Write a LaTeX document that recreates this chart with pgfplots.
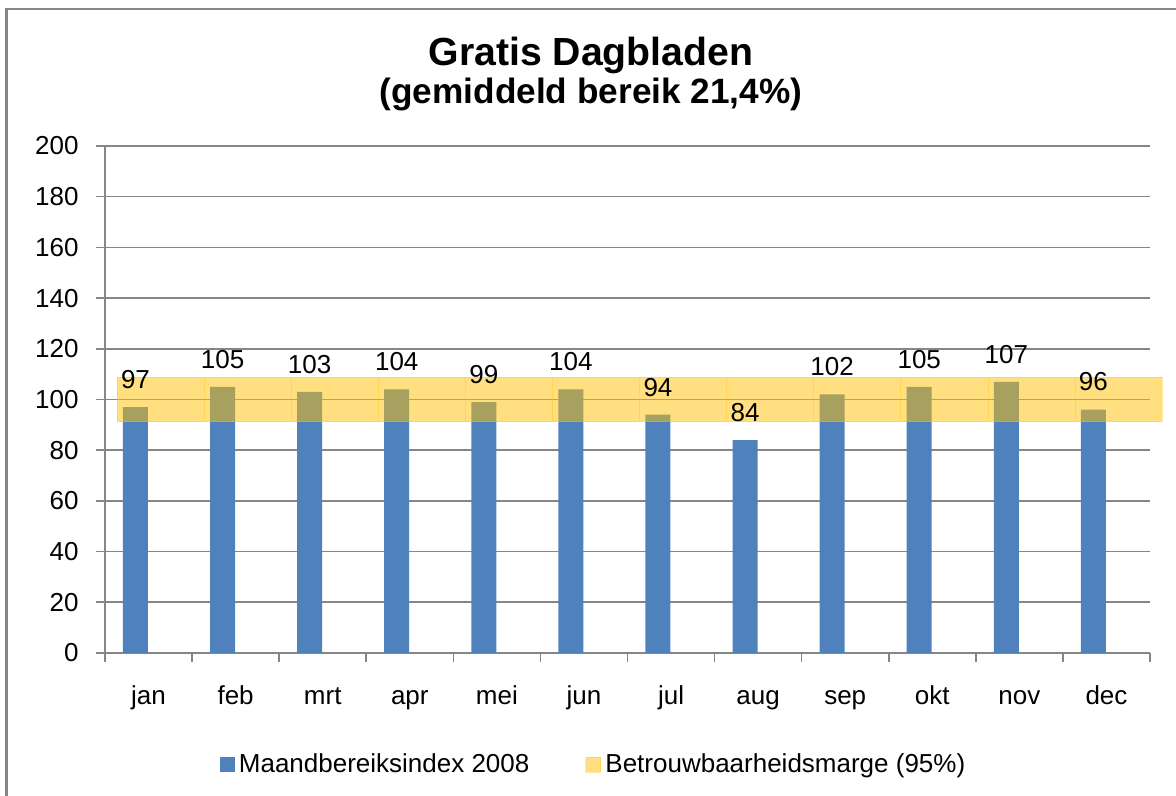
\documentclass[border=0pt]{standalone}
\usepackage{pgfplots}
\pgfplotsset{compat=1.18}
\usepackage{fontspec}
\setmainfont{Liberation Sans}
\definecolor{barblue}{HTML}{4F81BD}
\definecolor{bandyellow}{HTML}{FFC000}
\definecolor{gridgray}{HTML}{868686}
\pgfplotstableread{
x    v
-0.15 97
0.85 105
1.85 103
2.85 104
3.85 99
4.85 104
5.85 94
6.85 84
7.85 102
8.85 105
9.85 107
10.85 96
}\bars
\begin{document}
\begin{tikzpicture}
\path[use as bounding box] (-52.5pt,-71.5pt) rectangle (535.5pt,326.5pt);
\draw[gridgray, line width=1.25pt] (-49.25pt,-80pt) -- (-49.25pt,322pt) -- (560pt,322pt);
\node[font=\bfseries\fontsize{19.6}{23}\selectfont, anchor=base] at (243pt,293.5pt) {Gratis Dagbladen};
\node[font=\bfseries\fontsize{17.6}{21}\selectfont, anchor=base] at (243pt,274.5pt) {(gemiddeld bereik 21,4\%)};
\begin{axis}[
  at={(0pt,0pt)}, anchor=south west,
  scale only axis, width=522.5pt, height=253.5pt,
  xmin=-0.5, xmax=11.5, ymin=0, ymax=200,
  clip=false,
  axis lines*=left,
  axis line style={draw=gridgray, line width=0.8pt},
  ymajorgrids, grid style={draw=gridgray, line width=0.8pt},
  ytick={0,20,...,200},
  xtick={0,1,2,3,4,5,6,7,8,9,10,11},
  xticklabels={jan,feb,mrt,apr,mei,jun,jul,aug,sep,okt,nov,dec},
  minor xtick={-0.5,0.5,...,11.5},
  tick align=outside,
  major tick length=4.5pt, minor tick length=4.5pt,
  major x tick style={draw=none},
  tick style={draw=gridgray, line width=0.8pt},
  /pgf/number format/assume math mode=true,
  font=\fontsize{13}{15.6}\selectfont,
  ticklabel style={font=\fontsize{13}{15.6}\selectfont},
  yticklabel style={anchor=east, inner sep=0pt, xshift=-8.5pt},
  xticklabel style={anchor=base, inner sep=0pt, yshift=-21.5pt},
  ybar, bar width=12.5pt, bar shift=0pt,
]
\addplot[fill=barblue, draw=none] table[x=x, y=v] {\bars};
\end{axis}
\begin{axis}[
  at={(0pt,0pt)}, anchor=south west,
  scale only axis, width=522.5pt, height=253.5pt,
  xmin=-0.5, xmax=11.5, ymin=0, ymax=200,
  clip=false, hide axis,
  ybar stacked, bar width=1, bar shift=0pt,
  legend columns=2,
  legend style={draw=none, fill=none, at={(0.4685,-0.2209)}, anchor=center,
    font=\fontsize{13}{15.6}\selectfont,
    /tikz/every even column/.append style={column sep=26pt}},
  legend cell align=left,
]
\addplot[draw=none, fill=none, forget plot] coordinates {
 (0.14,91.15) (1.14,91.15) (2.14,91.15) (3.14,91.15) (4.14,91.15) (5.14,91.15)
 (6.14,91.15) (7.14,91.15) (8.14,91.15) (9.14,91.15) (10.14,91.15) (11.14,91.15)
};
\addlegendimage{area legend, fill=barblue, draw=none,
  legend image code/.code={\fill[barblue] (0pt,-3.75pt) rectangle (7.5pt,3.75pt);}}
\addlegendentry{Maandbereiksindex 2008}
\addplot[fill=bandyellow, fill opacity=0.5, draw=bandyellow, draw opacity=0.35, line width=0.5pt,
  legend image code/.code={\fill[bandyellow, fill opacity=0.5] (0pt,-3.75pt) rectangle (7.5pt,3.75pt);}] coordinates {
 (0.14,17.7) (1.14,17.7) (2.14,17.7) (3.14,17.7) (4.14,17.7) (5.14,17.7)
 (6.14,17.7) (7.14,17.7) (8.14,17.7) (9.14,17.7) (10.14,17.7) (11.14,17.7)
};
\addlegendentry{Betrouwbaarheidsmarge (95\%)}
\end{axis}
\begin{axis}[
  at={(0pt,0pt)}, anchor=south west,
  scale only axis, width=522.5pt, height=253.5pt,
  xmin=-0.5, xmax=11.5, ymin=0, ymax=200,
  clip=false, hide axis,
  ybar, bar width=12.5pt, bar shift=0pt,
  /pgf/number format/assume math mode=true,
  nodes near coords,
  every node near coord/.append style={anchor=south, inner sep=0pt, yshift=9pt, font=\fontsize{13}{15.6}\selectfont, text=black},
]
\addplot[draw=none, fill=none] table[x=x, y=v] {\bars};
\end{axis}
\end{tikzpicture}
\end{document}
